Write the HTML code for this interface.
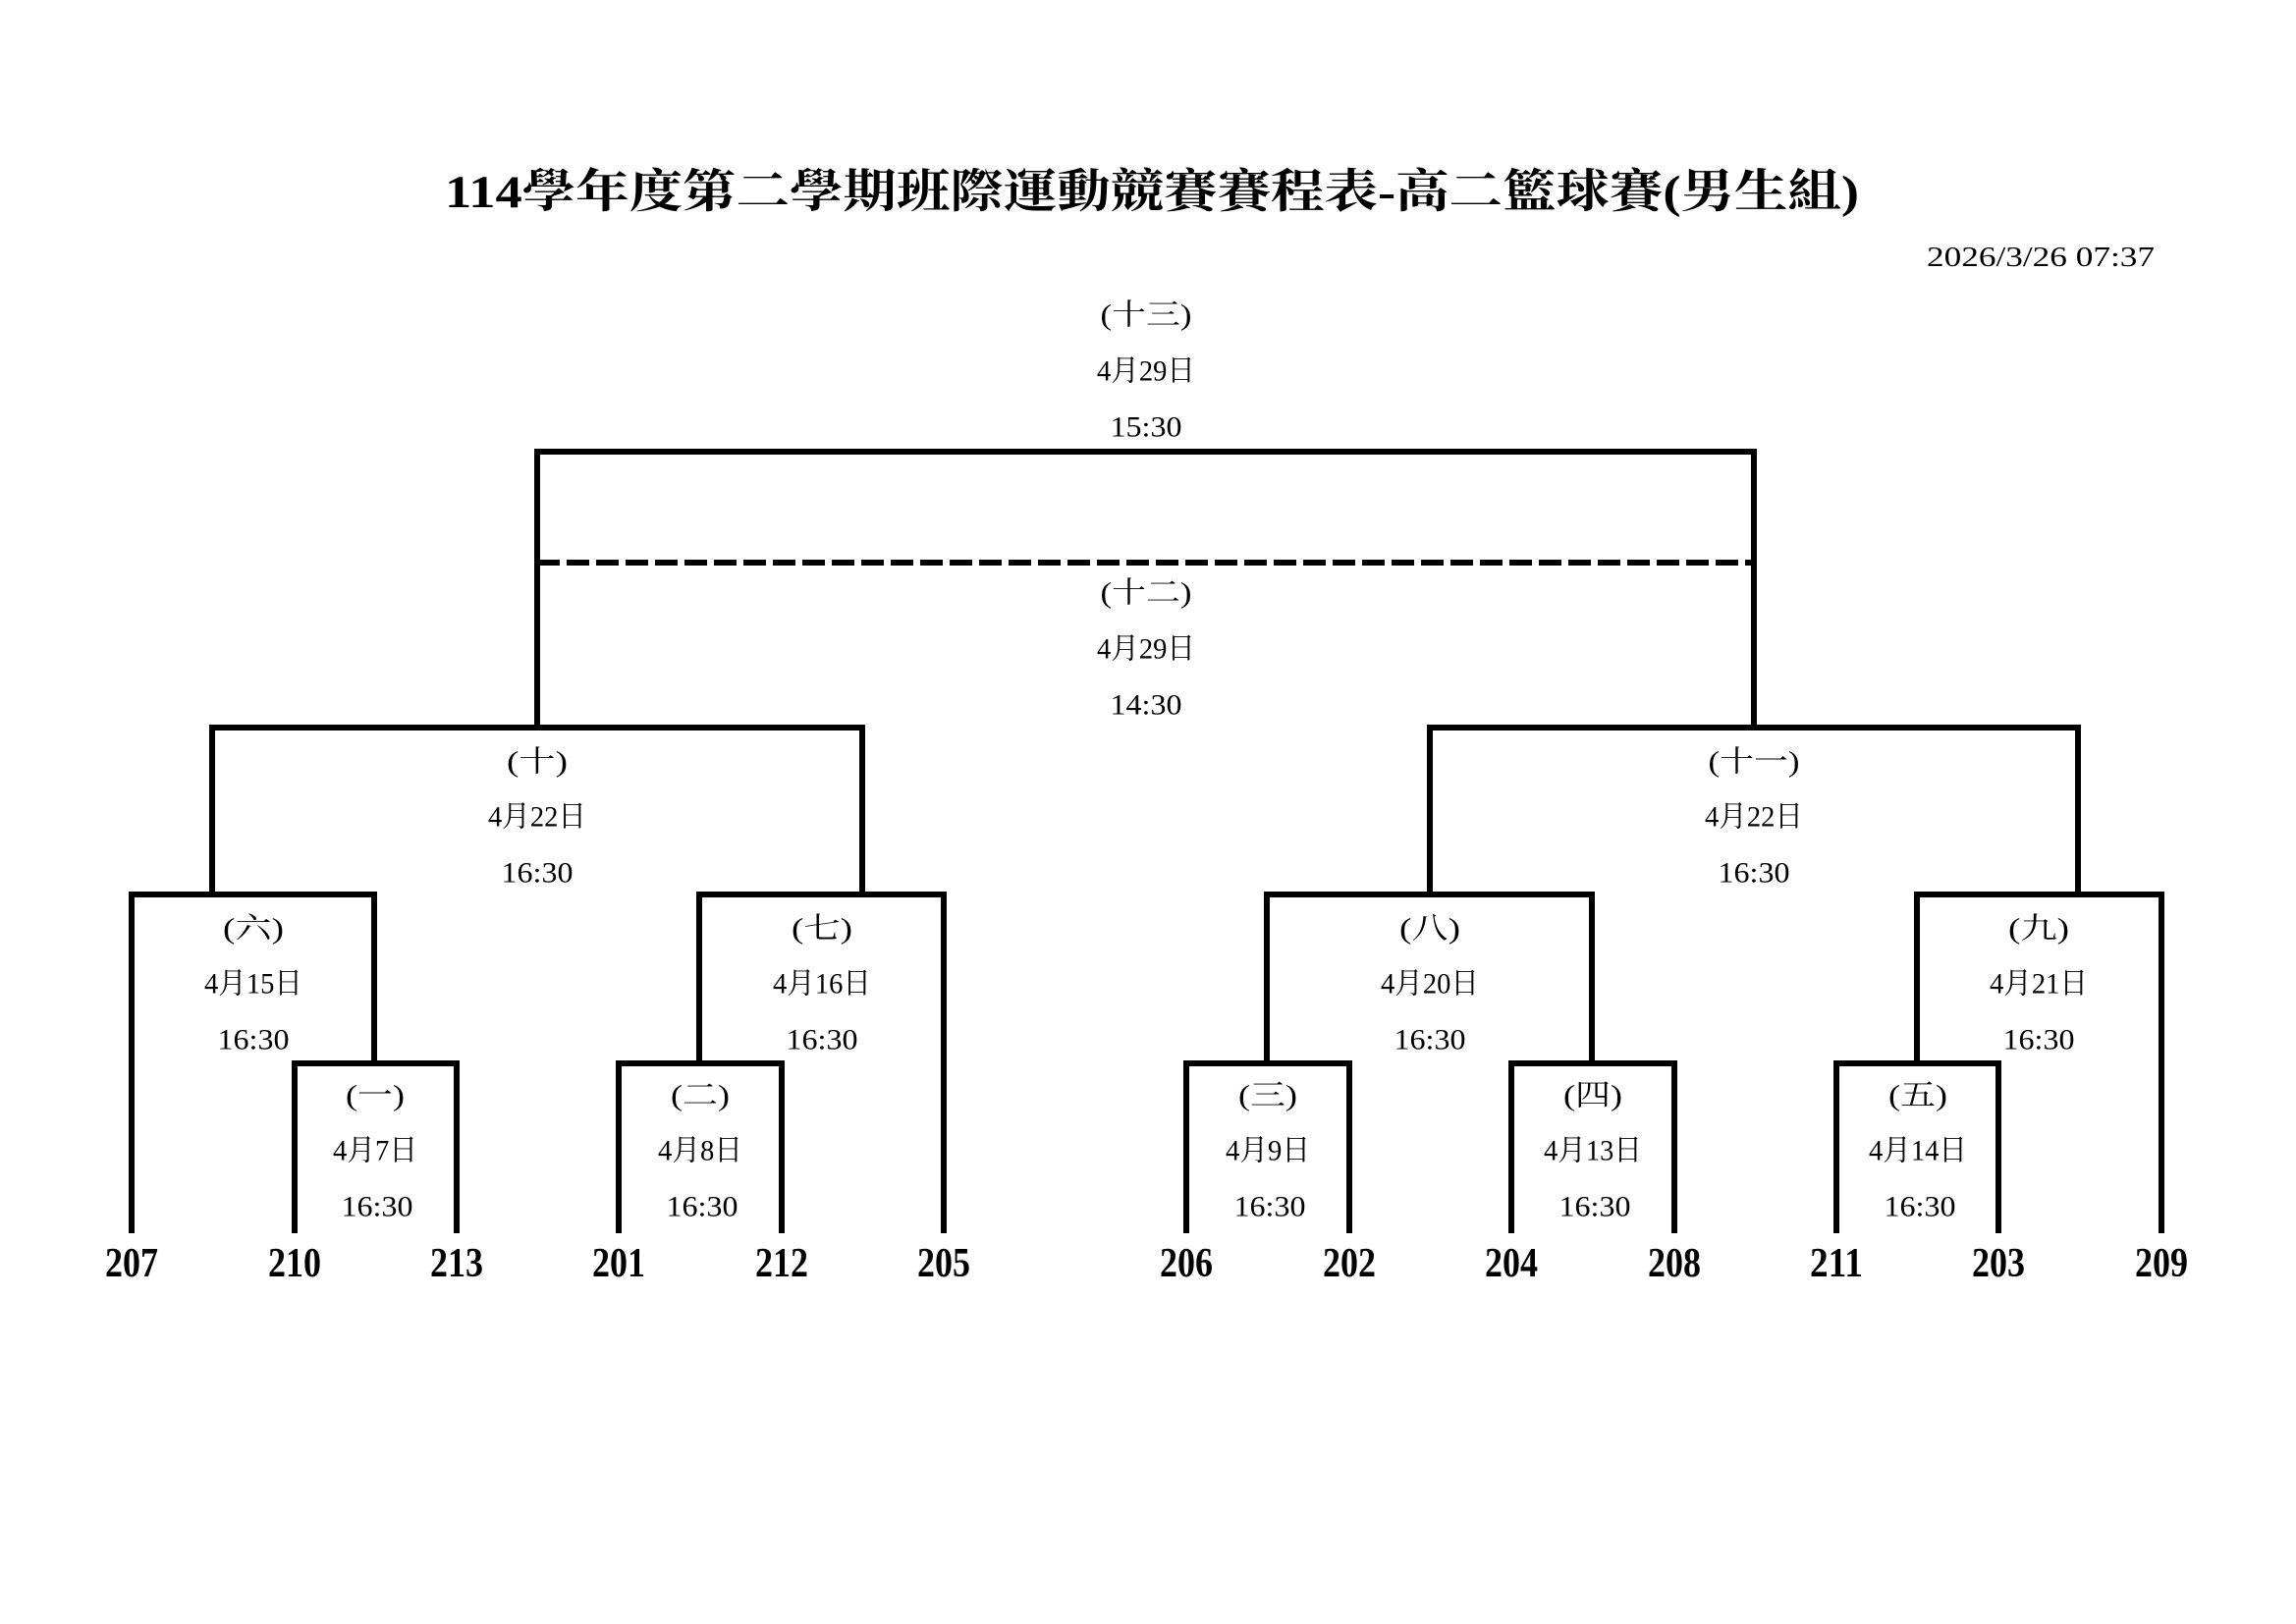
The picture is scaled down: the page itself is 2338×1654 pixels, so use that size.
<!DOCTYPE html>
<html><head><meta charset="utf-8"><style>
html,body{margin:0;padding:0;background:#fff;}
svg{display:block;}
text{font-family:"Liberation Serif","Noto Serif CJK SC","Noto Sans CJK TC",serif;fill:#000;}
</style></head><body>
<svg width="2338" height="1654" viewBox="0 0 2338 1654" xmlns="http://www.w3.org/2000/svg">
<rect width="2338" height="1654" fill="#fff"/>
<text x="453" y="196" font-size="47" font-weight="bold" dominant-baseline="central" textLength="1440" lengthAdjust="spacingAndGlyphs">114學年度第二學期班際運動競賽賽程表-高二籃球賽(男生組)</text>
<text x="1962" y="262" font-size="29" dominant-baseline="central" textLength="232" lengthAdjust="spacingAndGlyphs">2026/3/26 07:37</text>

<g fill="none" stroke="#000" stroke-width="6" stroke-linecap="square">
<polyline points="547,741 547,460 1786,460 1786,741"/>
<line x1="547" y1="573" x2="1786" y2="573" stroke-dasharray="23 7" stroke-linecap="butt"/>
<polyline points="216,911 216,741 878,741 878,911"/>
<polyline points="1456,911 1456,741 2116,741 2116,911"/>
<polyline points="134,1253 134,911 381,911 381,1083"/>
<polyline points="712,1083 712,911 961,911 961,1253"/>
<polyline points="1290,1083 1290,911 1621,911 1621,1083"/>
<polyline points="1952,1083 1952,911 2201,911 2201,1253"/>
<polyline points="300,1253 300,1083 465,1083 465,1253"/>
<polyline points="630,1253 630,1083 796,1083 796,1253"/>
<polyline points="1208,1253 1208,1083 1374,1083 1374,1253"/>
<polyline points="1539,1253 1539,1083 1705,1083 1705,1253"/>
<polyline points="1870,1253 1870,1083 2035,1083 2035,1253"/>
</g>

<g font-size="30" text-anchor="middle" dominant-baseline="central">
<text x="1167" y="321" textLength="93" lengthAdjust="spacingAndGlyphs">(十三)</text>
<text x="1167" y="378" textLength="100" lengthAdjust="spacingAndGlyphs">4月29日</text>
<text x="1167" y="435" textLength="73" lengthAdjust="spacingAndGlyphs">15:30</text>
<text x="1167" y="604" textLength="93" lengthAdjust="spacingAndGlyphs">(十二)</text>
<text x="1167" y="661" textLength="100" lengthAdjust="spacingAndGlyphs">4月29日</text>
<text x="1167" y="718" textLength="73" lengthAdjust="spacingAndGlyphs">14:30</text>
<text x="547" y="776" textLength="62" lengthAdjust="spacingAndGlyphs">(十)</text>
<text x="547" y="832" textLength="100" lengthAdjust="spacingAndGlyphs">4月22日</text>
<text x="547" y="889" textLength="73" lengthAdjust="spacingAndGlyphs">16:30</text>
<text x="1786" y="776" textLength="93" lengthAdjust="spacingAndGlyphs">(十一)</text>
<text x="1786" y="832" textLength="100" lengthAdjust="spacingAndGlyphs">4月22日</text>
<text x="1786" y="889" textLength="73" lengthAdjust="spacingAndGlyphs">16:30</text>
<text x="258" y="946" textLength="62" lengthAdjust="spacingAndGlyphs">(六)</text>
<text x="258" y="1002" textLength="100" lengthAdjust="spacingAndGlyphs">4月15日</text>
<text x="258" y="1059" textLength="73" lengthAdjust="spacingAndGlyphs">16:30</text>
<text x="837" y="946" textLength="62" lengthAdjust="spacingAndGlyphs">(七)</text>
<text x="837" y="1002" textLength="100" lengthAdjust="spacingAndGlyphs">4月16日</text>
<text x="837" y="1059" textLength="73" lengthAdjust="spacingAndGlyphs">16:30</text>
<text x="1456" y="946" textLength="62" lengthAdjust="spacingAndGlyphs">(八)</text>
<text x="1456" y="1002" textLength="100" lengthAdjust="spacingAndGlyphs">4月20日</text>
<text x="1456" y="1059" textLength="73" lengthAdjust="spacingAndGlyphs">16:30</text>
<text x="2076" y="946" textLength="62" lengthAdjust="spacingAndGlyphs">(九)</text>
<text x="2076" y="1002" textLength="100" lengthAdjust="spacingAndGlyphs">4月21日</text>
<text x="2076" y="1059" textLength="73" lengthAdjust="spacingAndGlyphs">16:30</text>
<text x="382" y="1116" textLength="60" lengthAdjust="spacingAndGlyphs">(一)</text>
<text x="382" y="1172" textLength="86" lengthAdjust="spacingAndGlyphs">4月7日</text>
<text x="384" y="1229" textLength="73" lengthAdjust="spacingAndGlyphs">16:30</text>
<text x="713" y="1116" textLength="60" lengthAdjust="spacingAndGlyphs">(二)</text>
<text x="713" y="1172" textLength="86" lengthAdjust="spacingAndGlyphs">4月8日</text>
<text x="715" y="1229" textLength="73" lengthAdjust="spacingAndGlyphs">16:30</text>
<text x="1291" y="1116" textLength="60" lengthAdjust="spacingAndGlyphs">(三)</text>
<text x="1291" y="1172" textLength="86" lengthAdjust="spacingAndGlyphs">4月9日</text>
<text x="1293" y="1229" textLength="73" lengthAdjust="spacingAndGlyphs">16:30</text>
<text x="1622" y="1116" textLength="60" lengthAdjust="spacingAndGlyphs">(四)</text>
<text x="1622" y="1172" textLength="100" lengthAdjust="spacingAndGlyphs">4月13日</text>
<text x="1624" y="1229" textLength="73" lengthAdjust="spacingAndGlyphs">16:30</text>
<text x="1953" y="1116" textLength="60" lengthAdjust="spacingAndGlyphs">(五)</text>
<text x="1953" y="1172" textLength="100" lengthAdjust="spacingAndGlyphs">4月14日</text>
<text x="1955" y="1229" textLength="73" lengthAdjust="spacingAndGlyphs">16:30</text>
</g>

<g font-size="42" font-weight="bold" text-anchor="middle" dominant-baseline="central">
<text x="134" y="1287" textLength="54" lengthAdjust="spacingAndGlyphs">207</text>
<text x="300" y="1287" textLength="54" lengthAdjust="spacingAndGlyphs">210</text>
<text x="465" y="1287" textLength="54" lengthAdjust="spacingAndGlyphs">213</text>
<text x="630" y="1287" textLength="54" lengthAdjust="spacingAndGlyphs">201</text>
<text x="796" y="1287" textLength="54" lengthAdjust="spacingAndGlyphs">212</text>
<text x="961" y="1287" textLength="54" lengthAdjust="spacingAndGlyphs">205</text>
<text x="1208" y="1287" textLength="54" lengthAdjust="spacingAndGlyphs">206</text>
<text x="1374" y="1287" textLength="54" lengthAdjust="spacingAndGlyphs">202</text>
<text x="1539" y="1287" textLength="54" lengthAdjust="spacingAndGlyphs">204</text>
<text x="1705" y="1287" textLength="54" lengthAdjust="spacingAndGlyphs">208</text>
<text x="1870" y="1287" textLength="54" lengthAdjust="spacingAndGlyphs">211</text>
<text x="2035" y="1287" textLength="54" lengthAdjust="spacingAndGlyphs">203</text>
<text x="2201" y="1287" textLength="54" lengthAdjust="spacingAndGlyphs">209</text>
</g>
</svg>
</body></html>
